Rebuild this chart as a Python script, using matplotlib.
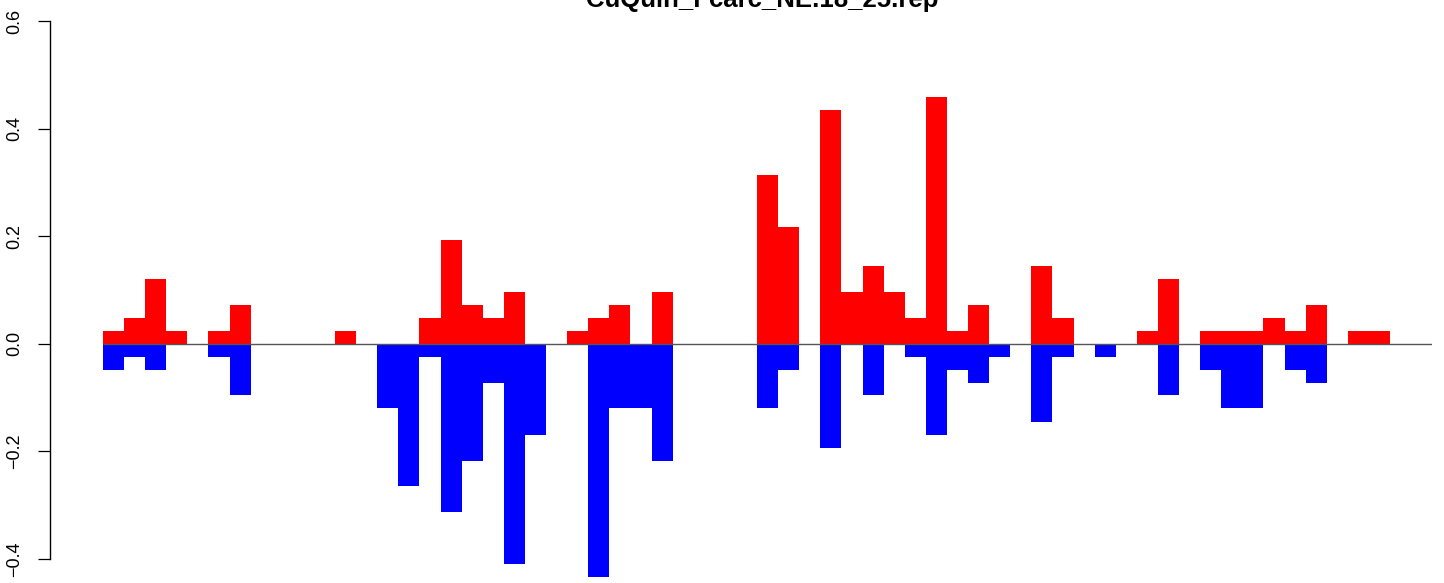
import matplotlib
matplotlib.use("Agg")
import matplotlib.pyplot as plt
import numpy as np

title = "CuQuin_Fcarc_NE.18_25.rep"

# positive (red) values per position
red_vals = [0.024, 0.048, 0.120, 0.024, 0.000, 0.024, 0.072, 0.000, 0.000, 0.000,
            0.000, 0.024, 0.000, 0.000, 0.000, 0.048, 0.193, 0.072, 0.048, 0.096,
            0.000, 0.000, 0.024, 0.048, 0.072, 0.000, 0.096, 0.000, 0.000, 0.000,
            0.000, 0.313, 0.217, 0.000, 0.434, 0.096, 0.145, 0.096, 0.048, 0.458,
            0.024, 0.072, 0.000, 0.000, 0.145, 0.048, 0.000, 0.000, 0.000, 0.024,
            0.120, 0.000, 0.024, 0.024, 0.024, 0.048, 0.024, 0.072, 0.000, 0.024,
            0.024]

# negative (blue) values per position
blue_vals = [-0.048, -0.024, -0.048, 0.000, 0.000, -0.024, -0.096, 0.000, 0.000, 0.000,
             0.000, 0.000, 0.000, -0.120, -0.265, -0.024, -0.313, -0.217, -0.072, -0.410,
             -0.169, 0.000, 0.000, -0.434, -0.120, -0.120, -0.217, 0.000, 0.000, 0.000,
             0.000, -0.120, -0.048, 0.000, -0.193, 0.000, -0.096, 0.000, -0.024, -0.169,
             -0.048, -0.072, -0.024, 0.000, -0.145, -0.024, 0.000, -0.024, 0.000, 0.000,
             -0.096, 0.000, -0.048, -0.120, -0.120, 0.000, -0.048, -0.072, 0.000, 0.000,
             0.000]

yticks = [-0.4, -0.2, 0.0, 0.2, 0.4, 0.6]
ytick_labels = ["\u22120.4", "\u22120.2", "0.0", "0.2", "0.4", "0.6"]

plt.rcParams['font.family'] = ['Liberation Sans', 'DejaVu Sans']

W, H = 1444, 583
fig = plt.figure(figsize=(W / 100, H / 100), dpi=100)
ax_left = 50 / W
ax_right = 1432 / W
ax = fig.add_axes([ax_left, 0.0, ax_right - ax_left, 1.0])

n = len(red_vals)
x = np.arange(n)
ax.bar(x, red_vals, width=1.0, align='edge', color='#FF0000', linewidth=0)
ax.bar(x, blue_vals, width=1.0, align='edge', color='#0000FF', linewidth=0)

bar_px = (1390 - 103) / n
xl = -(103 - 50) / bar_px
xr = n + (1432 - 1390) / bar_px
ax.set_xlim(xl, xr)

px_per_unit = (559 - 21) / 1.0
ytop = 0.6 + 21 / px_per_unit
ybot = -0.4 - (H - 559) / px_per_unit
ax.set_ylim(ybot, ytop)

ax.hlines(0, 0, xr, color='#555555', linewidth=1.0, zorder=3)

for s in ['top', 'right', 'bottom']:
    ax.spines[s].set_visible(False)
ax.spines['left'].set_bounds(-0.4, 0.6)
ax.spines['left'].set_linewidth(1.0)
ax.set_xticks([])
ax.set_yticks(yticks)
ax.set_yticklabels(ytick_labels, rotation=90, va='center', fontsize=13)
ax.tick_params(axis='y', length=8.6, width=0.9, pad=10.5)

fig.text(762 / W, 1 - 7 / H, title, ha='center', va='baseline',
         fontsize=18.5, fontweight='bold')

fig.savefig("out.png", dpi=100)
